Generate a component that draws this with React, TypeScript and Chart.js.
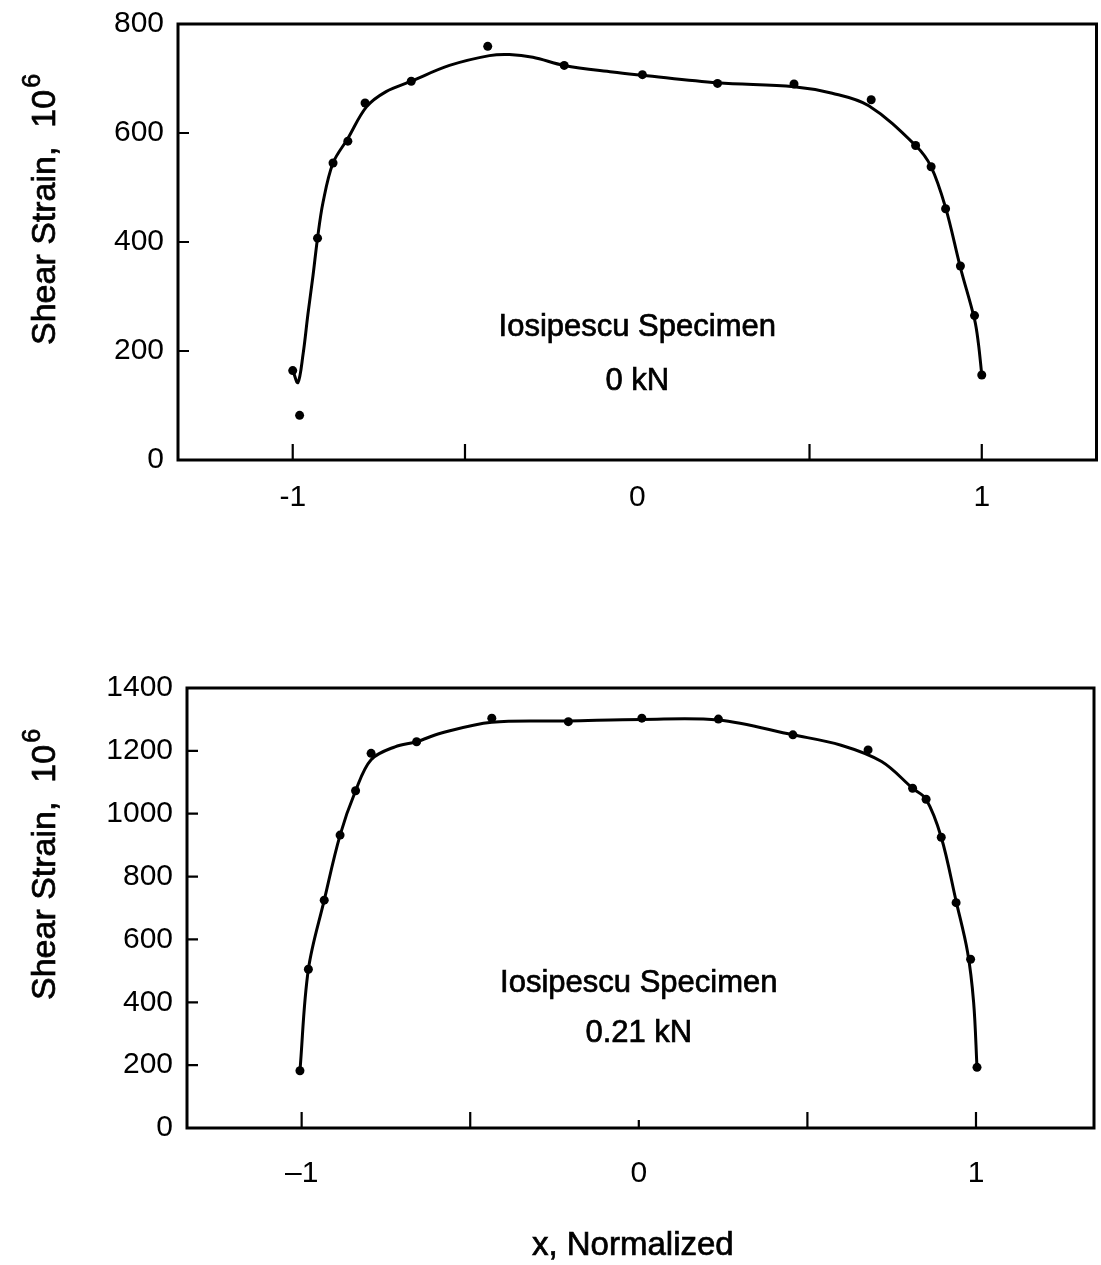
import React, { useEffect, useRef } from 'react';
import { Chart, registerables } from 'chart.js';

Chart.register(...registerables);

// ---------- data ----------
const topPointX = [-1.0, -0.98, -0.928, -0.883, -0.84, -0.79, -0.656, -0.434, -0.212, 0.015, 0.233, 0.455, 0.679, 0.808, 0.853, 0.895, 0.938, 0.979, 1.0];
const topPointY = [164, 82, 407, 545, 585, 655, 695, 759, 724, 707, 691, 690, 661, 577, 538, 461, 356, 265, 156];

const topCurveX = [-1.0, -0.985, -0.97, -0.956, -0.941, -0.928, -0.912, -0.883, -0.84, -0.786, -0.729, -0.656, -0.545, -0.429, -0.371, -0.303, -0.212, -0.072, 0.015, 0.233, 0.455, 0.566, 0.672, 0.808, 0.853, 0.895, 0.938, 0.979, 0.99, 1.0];
const topCurveY = [165, 142, 194, 267, 339, 407, 473, 545, 590, 648, 676, 695, 724, 742, 744, 739, 724, 712, 706, 692, 685, 673, 650, 577, 538, 463, 353, 258, 215, 156];

const bottomPointX = [-1.005, -0.98, -0.933, -0.886, -0.84, -0.794, -0.659, -0.436, -0.209, 0.009, 0.236, 0.457, 0.68, 0.812, 0.852, 0.897, 0.941, 0.984, 1.003];
const bottomPointY = [182, 505, 725, 932, 1073, 1192, 1229, 1304, 1293, 1304, 1301, 1251, 1203, 1081, 1046, 925, 717, 537, 193];

const bottomCurveX = [-1.005, -0.98, -0.933, -0.886, -0.84, -0.794, -0.723, -0.659, -0.588, -0.436, -0.209, 0.009, 0.236, 0.457, 0.6, 0.72, 0.812, 0.852, 0.897, 0.941, 0.975, 0.993, 1.003];
const bottomCurveY = [182, 505, 725, 932, 1073, 1172, 1213, 1229, 1256, 1291, 1295, 1300, 1298, 1251, 1218, 1166, 1081, 1046, 925, 722, 560, 400, 193];

const topYTicks = [0, 200, 400, 600, 800];
const bottomYTicks = [0, 200, 400, 600, 800, 1000, 1200, 1400];
const xTickValues = [-1, 0, 1];
const topXTickLabels = ['-1', '0', '1'];
const bottomXTickLabels = ['\u20131', '0', '1'];
const xTickMarks = [-1, -0.5, 0.5, 1];

const yTitleText = 'Shear Strain,  10';
const yTitleExp = '6';
const xTitleText = 'x, Normalized';
const topNote = ['Iosipescu Specimen', '0 kN'];
const topNoteY = [243, 145];
const bottomNote = ['Iosipescu Specimen', '0.21 kN'];
const bottomNoteY = [461, 302];

const FONT = "'Liberation Sans', Arial, Helvetica, sans-serif";

function heavyText(ctx: CanvasRenderingContext2D, t: string, x: number, y: number) {
  ctx.fillText(t, x, y);
  ctx.lineWidth = 0.7;
  ctx.strokeText(t, x, y);
}

const decorPlugin = {
  id: 'decor',
  afterDraw(chart: any, _args: any, opts: any) {
    const { ctx, chartArea } = chart;
    const xs = chart.scales.x;
    const ys = chart.scales.y;
    ctx.save();
    ctx.strokeStyle = '#000';
    ctx.fillStyle = '#000';
    ctx.lineWidth = 3;
    ctx.strokeRect(chartArea.left, chartArea.top, chartArea.right - chartArea.left, chartArea.bottom - chartArea.top);

    ctx.lineWidth = 2.2;
    ctx.beginPath();
    for (const v of opts.yTicks) {
      const y = ys.getPixelForValue(v);
      ctx.moveTo(chartArea.left, y);
      ctx.lineTo(chartArea.left + 11, y);
    }
    for (const v of xTickMarks) {
      const x = xs.getPixelForValue(v);
      ctx.moveTo(x, chartArea.bottom);
      ctx.lineTo(x, chartArea.bottom - 16);
    }
    if (opts.zeroTick) {
      const x = xs.getPixelForValue(0);
      ctx.moveTo(x, chartArea.bottom);
      ctx.lineTo(x, chartArea.bottom - 8);
    }
    ctx.stroke();

    // annotation
    ctx.font = `31px ${FONT}`;
    ctx.textAlign = 'center';
    ctx.textBaseline = 'middle';
    const cx = xs.getPixelForValue(0);
    opts.note.forEach((t: string, i: number) => {
      heavyText(ctx, t, cx, ys.getPixelForValue(opts.noteY[i]));
    });

    // y title (rotated, with superscript)
    ctx.save();
    ctx.translate(opts.yTitleX, chartArea.bottom - opts.yTitleStart);
    ctx.rotate(-Math.PI / 2);
    ctx.textAlign = 'left';
    ctx.textBaseline = 'alphabetic';
    ctx.font = `34px ${FONT}`;
    heavyText(ctx, yTitleText, 0, 0);
    const w = ctx.measureText(yTitleText).width;
    ctx.font = `25px ${FONT}`;
    heavyText(ctx, yTitleExp, w + 2, -15);
    ctx.restore();

    if (opts.xTitle) {
      ctx.font = `33px ${FONT}`;
      ctx.textAlign = 'center';
      ctx.textBaseline = 'middle';
      heavyText(ctx, xTitleText, xs.getPixelForValue(0) - 6, chartArea.bottom + opts.xTitleOffset);
    }
    ctx.restore();
  },
};

function makeConfig(p: any) {
  return {
    type: 'line',
    data: {
      datasets: [
        {
          data: p.curveX.map((x: number, i: number) => ({ x, y: p.curveY[i] })),
          borderColor: '#000',
          borderWidth: 3,
          pointRadius: 0,
          tension: 0.35,
          fill: false,
        },
        {
          data: p.pointX.map((x: number, i: number) => ({ x, y: p.pointY[i] })),
          showLine: false,
          pointRadius: 4.5,
          pointBackgroundColor: '#000',
          pointBorderWidth: 0,
          borderColor: '#000',
        },
      ],
    },
    options: {
      responsive: false,
      animation: false,
      devicePixelRatio: 1,
      layout: { padding: p.padding },
      plugins: {
        legend: { display: false },
        tooltip: { enabled: false },
        decor: p.decor,
      },
      scales: {
        x: {
          type: 'linear',
          min: p.xMin,
          max: p.xMax,
          grid: { display: false },
          border: { display: false },
          afterBuildTicks: (s: any) => {
            s.ticks = xTickValues.map((v) => ({ value: v }));
          },
          afterFit: (s: any) => {
            s.height = p.xHeight;
          },
          ticks: {
            autoSkip: false,
            maxRotation: 0,
            color: '#000',
            padding: p.xPad,
            font: { size: 30, family: FONT },
            callback: (_v: any, i: number) => p.xLabels[i],
          },
        },
        y: {
          type: 'linear',
          min: p.yTicks[0],
          max: p.yTicks[p.yTicks.length - 1],
          grid: { display: false },
          border: { display: false },
          afterFit: (s: any) => {
            s.width = p.yWidth;
          },
          ticks: {
            stepSize: 200,
            color: '#000',
            padding: 6,
            font: { size: 30, family: FONT },
            callback: (v: any) => String(v),
          },
        },
      },
    },
    plugins: [decorPlugin],
  };
}

function ChartCanvas(props: { cfg: any; top: number; height: number }) {
  const ref = useRef<HTMLCanvasElement | null>(null);
  useEffect(() => {
    if (!ref.current) return;
    const chart = new Chart(ref.current, props.cfg);
    return () => chart.destroy();
  }, []);
  return (
    <canvas
      ref={ref}
      width={1101}
      height={props.height}
      style={{ position: 'absolute', left: 0, top: props.top, width: 1101, height: props.height }}
    />
  );
}

export default function App() {
  const topCfg = makeConfig({
    curveX: topCurveX,
    curveY: topCurveY,
    pointX: topPointX,
    pointY: topPointY,
    padding: { top: 20, right: 3, left: 0, bottom: 0 },
    xMin: -1.333,
    xMax: 1.333,
    xHeight: 100,
    yWidth: 178,
    xPad: 12,
    xLabels: topXTickLabels,
    yTicks: topYTicks,
    decor: {
      yTicks: topYTicks,
      note: topNote,
      noteY: topNoteY,
      zeroTick: false,
      yTitleX: 55,
      yTitleStart: 115,
      xTitle: false,
    },
  });
  const bottomCfg = makeConfig({
    curveX: bottomCurveX,
    curveY: bottomCurveY,
    pointX: bottomPointX,
    pointY: bottomPointY,
    padding: { top: 128, right: 7, left: 0, bottom: 0 },
    xMin: -1.34,
    xMax: 1.35,
    xHeight: 137,
    yWidth: 187,
    xPad: 20,
    xLabels: bottomXTickLabels,
    yTicks: bottomYTicks,
    decor: {
      yTicks: bottomYTicks,
      note: bottomNote,
      noteY: bottomNoteY,
      zeroTick: true,
      yTitleX: 55,
      yTitleStart: 128,
      xTitle: true,
      xTitleOffset: 118,
    },
  });
  return (
    <div style={{ position: 'absolute', left: 0, top: 0, width: 1101, height: 1265, background: '#fff' }}>
      <ChartCanvas cfg={topCfg} top={0} height={560} />
      <ChartCanvas cfg={bottomCfg} top={560} height={705} />
    </div>
  );
}
